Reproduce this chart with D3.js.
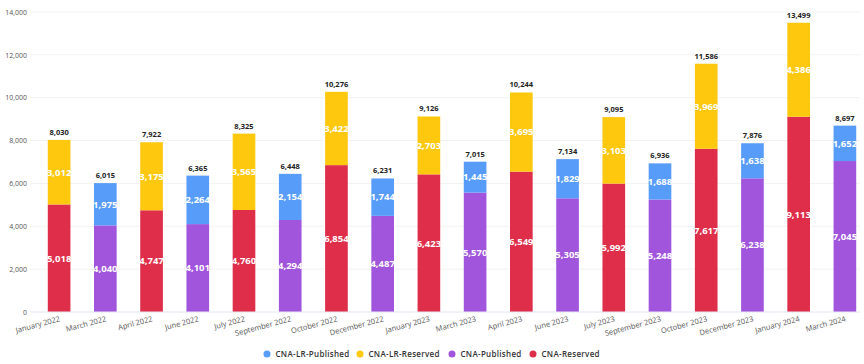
<!DOCTYPE html>
<html>
<head>
<meta charset="utf-8">
<script src="https://cdn.jsdelivr.net/npm/d3@7"></script>
<style>
  body { margin: 0; background: #fff; }
  svg { display: block; font-family: "Open Sans", sans-serif; }
</style>
</head>
<body>
<div id="chart"></div>
<script>
// months shown on the x axis
const months = ["January 2022", "March 2022", "April 2022", "June 2022", "July 2022", "September 2022",
  "October 2022", "December 2022", "January 2023", "March 2023", "April 2023", "June 2023",
  "July 2023", "September 2023", "October 2023", "December 2023", "January 2024", "March 2024"];

// series values, 0 where a month has no value for that series
const cnaReserved   = [5018, 0, 4747, 0, 4760, 0, 6854, 0, 6423, 0, 6549, 0, 5992, 0, 7617, 0, 9113, 0];
const cnaPublished  = [0, 4040, 0, 4101, 0, 4294, 0, 4487, 0, 5570, 0, 5305, 0, 5248, 0, 6238, 0, 7045];
const lrReserved    = [3012, 0, 3175, 0, 3565, 0, 3422, 0, 2703, 0, 3695, 0, 3103, 0, 3969, 0, 4386, 0];
const lrPublished   = [0, 1975, 0, 2264, 0, 2154, 0, 1744, 0, 1445, 0, 1829, 0, 1688, 0, 1638, 0, 1652];

const yTicks = [0, 2000, 4000, 6000, 8000, 10000, 12000, 14000];

const width = 864, height = 364;
const svg = d3.select("#chart").append("svg")
  .attr("width", width)
  .attr("height", height);

const x = d3.scaleBand()
  .domain(months)
  .range([36, 868])
  .paddingInner(0.51)
  .paddingOuter(0.255);

const y = d3.scaleLinear()
  .domain([0, 14000])
  .range([312, 12]);

// gridlines
svg.append("g")
  .selectAll("line")
  .data(yTicks.slice(1))
  .join("line")
    .attr("x1", 30)
    .attr("x2", 860)
    .attr("y1", d => y(d))
    .attr("y2", d => y(d))
    .attr("stroke", "#f2f2f2")
    .attr("stroke-width", 1);

// y axis labels
const yAxis = svg.append("g")
  .attr("transform", "translate(27,0)")
  .call(d3.axisLeft(y).tickValues(yTicks).tickSize(0).tickPadding(0).tickFormat(d3.format(",")));
yAxis.select(".domain").remove();
yAxis.selectAll("text")
  .style("font-size", "7px")
  .style("font-family", "Open Sans, sans-serif")
  .attr("fill", "#555");

// stacked data: bottom then top
const series = [
  { key: "CNA-Reserved", color: "#df2e4a", values: cnaReserved, base: null },
  { key: "CNA-Published", color: "#a154dc", values: cnaPublished, base: null },
  { key: "CNA-LR-Reserved", color: "#fec80f", values: lrReserved, base: cnaReserved },
  { key: "CNA-LR-Published", color: "#589cfa", values: lrPublished, base: cnaPublished }
];

series.forEach(s => {
  const rows = months.map((m, i) => ({
    m: m,
    v: s.values[i],
    b: s.base ? s.base[i] : 0
  })).filter(r => r.v > 0);

  const g = svg.append("g");
  g.selectAll("rect")
    .data(rows)
    .join("rect")
      .attr("x", d => x(d.m))
      .attr("width", x.bandwidth())
      .attr("y", d => y(d.b + d.v))
      .attr("height", d => y(d.b) - y(d.b + d.v))
      .attr("fill", s.color);

  g.selectAll("text")
    .data(rows)
    .join("text")
      .attr("x", d => x(d.m) + x.bandwidth() / 2)
      .attr("y", d => y(d.b + d.v / 2))
      .attr("dy", "0.35em")
      .attr("text-anchor", "middle")
      .attr("fill", "#fff")
      .style("font-size", "9.5px")
      .style("font-weight", "bold")
      .text(d => d3.format(",")(d.v));
});

// baseline
svg.append("line")
  .attr("x1", 30)
  .attr("x2", 860)
  .attr("y1", y(0))
  .attr("y2", y(0))
  .attr("stroke", "#e4e6f2")
  .attr("stroke-width", 1);

// totals on top
const totals = months.map((m, i) => ({
  m: m,
  t: cnaReserved[i] + cnaPublished[i] + lrReserved[i] + lrPublished[i]
}));
svg.append("g")
  .selectAll("text")
  .data(totals)
  .join("text")
    .attr("x", d => x(d.m) + x.bandwidth() / 2)
    .attr("y", d => y(d.t) - 5)
    .attr("text-anchor", "middle")
    .attr("fill", "#222")
    .style("font-size", "7.5px")
    .style("font-weight", "bold")
    .text(d => d3.format(",")(d.t));

// x axis labels, tilted
svg.append("g")
  .selectAll("text")
  .data(months)
  .join("text")
    .attr("transform", d => `translate(${x(d) + x.bandwidth() / 2},316) rotate(-15)`)
    .attr("dy", "0.71em")
    .attr("text-anchor", "end")
    .attr("fill", "#555")
    .style("font-size", "7.5px")
    .text(d => d);

// legend
const legend = [
  { key: "CNA-LR-Published", color: "#589cfa", cx: 267 },
  { key: "CNA-LR-Reserved", color: "#fec80f", cx: 360 },
  { key: "CNA-Published", color: "#a154dc", cx: 452 },
  { key: "CNA-Reserved", color: "#df2e4a", cx: 533 }
];
const lg = svg.append("g").selectAll("g")
  .data(legend)
  .join("g")
    .attr("transform", d => `translate(${d.cx},354)`);
lg.append("circle")
  .attr("r", 3.5)
  .attr("fill", d => d.color);
lg.append("text")
  .attr("x", 8.5)
  .attr("dy", "0.35em")
  .attr("fill", "#333")
  .style("font-size", "8px")
  .style("font-weight", 600)
  .style("letter-spacing", "0.3px")
  .text(d => d.key);
</script>
</body>
</html>
